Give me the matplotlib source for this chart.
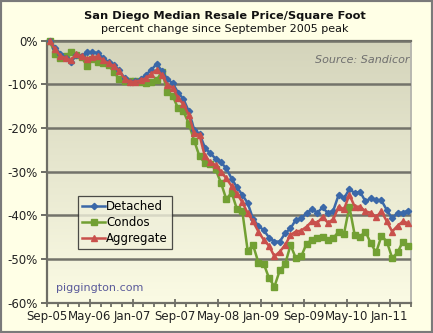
import numpy as np
import matplotlib
matplotlib.use('Agg')
import matplotlib.pyplot as plt
from matplotlib.colors import LinearSegmentedColormap
from matplotlib.patches import Rectangle

# monthly, Sep-05 .. Apr-11, % change since Sep-05 peak
detached = [0, -1.6, -3.0, -4.0, -5.0, -3.2, -3.5, -2.7, -2.7, -2.8,
            -4.0, -4.9, -5.6, -6.8, -8.6, -9.4, -9.3, -8.9, -7.8, -6.7,
            -5.3, -7.0, -8.8, -9.8, -11.9, -13.4, -16.2, -20.4, -21.3, -24.5,
            -25.8, -27.0, -27.9, -29.2, -31.6, -33.6, -35.3, -37.2, -40.8, -42.4,
            -43.4, -45.1, -46.0, -46.0, -44.1, -43.0, -41.0, -40.7, -39.5, -38.6,
            -39.4, -38.2, -39.5, -38.9, -35.3, -36.1, -34.0, -34.9, -34.6, -36.8,
            -36.1, -36.5, -36.6, -38.8, -40.7, -39.4, -39.4, -38.9]
condos = [0, -3.0, -3.9, -3.5, -2.6, -3.2, -3.8, -5.9, -4.3, -4.9,
          -5.2, -5.6, -7.2, -8.8, -9.2, -9.3, -9.2, -9.4, -9.8, -9.5,
          -9.0, -7.1, -11.7, -12.7, -15.5, -16.2, -19.0, -22.9, -26.5, -28.0,
          -28.2, -29.5, -32.5, -36.3, -34.8, -38.6, -39.1, -48.1, -46.8, -50.8,
          -51.1, -54.4, -56.3, -52.6, -51.2, -46.8, -49.8, -49.4, -46.5, -45.6,
          -45.2, -44.9, -45.6, -45.2, -43.7, -44.2, -38.0, -44.5, -44.9, -43.7,
          -46.4, -48.5, -44.7, -46.0, -49.8, -48.5, -46.0, -47.1]
aggregate = [0, -2.0, -3.5, -4.0, -4.5, -3.0, -3.6, -4.1, -3.8, -3.6,
             -4.5, -5.2, -5.8, -7.0, -8.7, -9.4, -9.4, -9.1, -8.6, -7.6,
             -6.7, -7.9, -10.1, -10.8, -13.1, -14.6, -17.0, -21.2, -21.6, -26.5,
             -27.8, -28.5, -30.0, -31.5, -33.3, -35.0, -37.0, -39.5, -41.4, -43.7,
             -45.6, -47.0, -49.4, -48.3, -46.8, -44.5, -43.7, -43.5, -42.6, -41.4,
             -41.7, -40.4, -41.7, -40.9, -38.0, -38.6, -35.3, -38.0, -38.0, -39.1,
             -39.4, -40.4, -39.1, -41.4, -43.7, -42.4, -41.4, -41.8]
xlabels = ['Sep-05', 'May-06', 'Jan-07', 'Sep-07', 'May-08',
           'Jan-09', 'Sep-09', 'May-10', 'Jan-11']
ylevels = [0, -10, -20, -30, -40, -50, -60]

n = len(detached)
x = np.arange(n)

fig = plt.figure(figsize=(4.33, 3.33), dpi=100, facecolor='#ffffe6')
ax = fig.add_axes([0.1085, 0.091, 0.8405, 0.787])

# gradient plot background
cmap = LinearSegmentedColormap.from_list('bg', ['#d4d4bb', '#fbfbe4'])
ax.imshow(np.linspace(0, 1, 256).reshape(-1, 1), cmap=cmap, aspect='auto',
          extent=[-0.5, n - 0.5, -60, 0], zorder=0)

ax.plot(x, detached, color='#3b68a8', lw=1.8, marker='D', ms=3.2,
        label='Detached', zorder=5, clip_on=False)
ax.plot(x, condos, color='#72a033', lw=1.8, marker='s', ms=4,
        label='Condos', zorder=4, clip_on=False)
ax.plot(x, aggregate, color='#c9504c', lw=1.8, marker='^', ms=4,
        label='Aggregate', zorder=6, clip_on=False)

ax.set_xlim(-0.5, n - 0.5)
ax.set_ylim(-60, 0)
ax.set_xticks([-0.5 + 8 * i for i in range(len(xlabels))])
ax.set_xticklabels(xlabels)
ax.set_xticks(np.arange(-0.5, n, 2), minor=True)
ax.set_yticks(ylevels)
ax.set_yticklabels(['%d%%' % v for v in ylevels])

ax.yaxis.grid(True, color='#73736a', lw=1.8, zorder=1)
ax.set_axisbelow(False)
for s in ['left', 'bottom', 'top']:
    ax.spines[s].set_color('#6e6e66')
    ax.spines[s].set_linewidth(1.6)
ax.spines['right'].set_color('#b8b8b0')
ax.spines['right'].set_linewidth(1.4)

ax.tick_params(axis='y', direction='out', length=4, width=1.4, color='#6e6e66',
               labelsize=8.5, pad=3, colors='#222222')
ax.tick_params(axis='x', which='major', direction='inout', length=6, width=1.3,
               color='#6e6e66', labelsize=8.5, pad=2, colors='#222222')
ax.tick_params(axis='x', which='minor', direction='out', length=3, width=1.3,
               color='#6e6e66')

leg = ax.legend(loc='upper left', bbox_to_anchor=(0.086, 0.408),
                borderaxespad=0, fontsize=8.5, handlelength=1.9,
                handletextpad=0.1, labelspacing=0.25, fancybox=False,
                frameon=True, borderpad=0.35)
leg.get_frame().set_edgecolor('#222222')
leg.get_frame().set_linewidth(0.9)
leg.get_frame().set_facecolor('#f1f1dc')

ax.text(0.995, 0.925, 'Source: Sandicor', transform=ax.transAxes, ha='right',
        va='center', fontsize=8, style='italic', color='#6f6f6f')
ax.text(0.025, 0.055, 'piggington.com', transform=ax.transAxes, ha='left',
        va='center', fontsize=8, color='#5a5a9a')

fig.text(0.52, 0.952, 'San Diego Median Resale Price/Square Foot',
         ha='center', va='center', fontsize=8.2, fontweight='bold', color='#111111')
fig.text(0.52, 0.912, 'percent change since September 2005 peak',
         ha='center', va='center', fontsize=8, color='#111111')

fig.patches.append(Rectangle((0, 0), 1, 1, transform=fig.transFigure,
                             fill=False, edgecolor='#7a7a7a', lw=3))

fig.savefig('out.png', dpi=100, facecolor=fig.get_facecolor())
